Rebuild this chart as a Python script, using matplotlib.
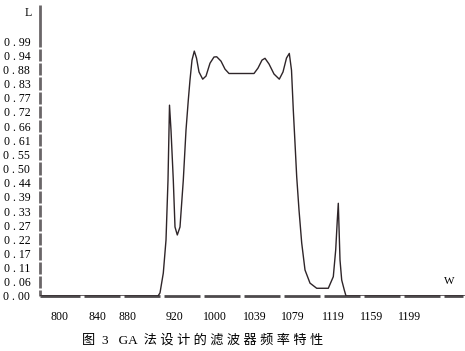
import numpy as np
import matplotlib
matplotlib.use("Agg")
import matplotlib.pyplot as plt

# frequency response (x ~ frequency, L ~ response)
freq = [824, 942, 944, 947.3, 950, 952, 953.5, 955, 957.3, 959, 961.3, 964, 967.3,
        970, 972.3, 974, 976, 978.3, 980.5, 983, 986.7, 990, 994, 998, 1000.7, 1005,
        1009, 1013, 1038, 1042, 1046, 1049, 1053, 1058, 1063.3, 1067, 1070.5, 1073.3,
        1075.5, 1077.3, 1079, 1080.7, 1083, 1085.7, 1089, 1094, 1100.7, 1112.3, 1117.3,
        1119.7, 1121.3, 1122.3, 1123, 1124, 1125.7, 1128.3, 1130, 1249]
resp = [0, 0, 0.012, 0.089, 0.217, 0.450, 0.741, 0.644, 0.450, 0.268, 0.237, 0.268, 0.450,
        0.644, 0.761, 0.839, 0.916, 0.951, 0.924, 0.870, 0.842, 0.854, 0.904, 0.928, 0.929, 0.912,
        0.881, 0.864, 0.864, 0.885, 0.916, 0.923, 0.901, 0.862, 0.842, 0.870, 0.924, 0.942,
        0.877, 0.722, 0.594, 0.463, 0.334, 0.206, 0.101, 0.050, 0.030, 0.030, 0.075,
        0.179, 0.295, 0.360, 0.269, 0.140, 0.062, 0.023, 0, 0]

y_ticks = [0.055 * k for k in range(19)]
y_labels = ["0 . 00", "0 . 06", "0 . 11", "0 . 17", "0 . 22", "0 . 27", "0 . 33", "0 . 39",
            "0 . 44", "0 . 50", "0 . 55", "0 . 61", "0 . 66", "0 . 72", "0 . 77", "0 . 83",
            "0 . 88", "0 . 94", "0 . 99"]
x_ticks = [844, 881, 912, 959, 999, 1039, 1077, 1117, 1156, 1194]
x_labels = ["800", "840", "880", "920", "1000", "1039", "1079", "1119", "1159", "1199"]

fig = plt.figure(figsize=(4.65, 3.51), dpi=100)
ax = fig.add_axes([40 / 465, 55 / 351, 425 / 465, 291 / 351])
ax.set_xlim(824, 1249)
ax.set_ylim(0, 1.13)
for s in ax.spines.values():
    s.set_visible(False)

# broken axis lines like the original
axc = "#4d4a4c"
xg = [866 + 40 * k for k in range(10)]
xs = [824] + xg
xe = xg + [1247]
for a, b in zip(xs, xe):
    ax.plot([a if a == 824 else a + 2, b - 2 if b != 1247 else b], [0, 0], color=axc, lw=2,
            clip_on=False, solid_capstyle="butt")
yg = [(k + 0.5) * 0.055 for k in range(18)]
ys = [0] + yg
ye = yg + [1.13]
for a, b in zip(ys, ye):
    ax.plot([824, 824], [a if a == 0 else a + 0.004, b - 0.004 if b != 1.13 else b],
            color="#6a6668", lw=2, clip_on=False, solid_capstyle="butt")

ax.plot(freq, resp, color="#2e2529", lw=1.0)

ax.set_yticks(y_ticks)
ax.set_yticklabels(y_labels, family="Liberation Serif", fontsize=8.5)
ax.set_xticks(x_ticks)
ax.set_xticklabels(x_labels, family="Liberation Serif", fontsize=8.5)
ax.tick_params(axis="both", length=0)
ax.tick_params(axis="y", pad=7)
ax.tick_params(axis="x", pad=11)

fig.text(28 / 465, 1 - 13 / 351, "L", family="Liberation Serif", fontsize=8.5,
         ha="center", va="center")
fig.text(449 / 465, 1 - 281 / 351, "W", family="Liberation Serif", fontsize=8,
         ha="center", va="center")
fig.text(203 / 465, 1 - 340 / 351, "图  3   GA  法 设 计 的 滤 波 器 频 率 特 性",
         family=["Liberation Serif", "Noto Sans CJK SC"], fontsize=9.5,
         ha="center", va="center")

fig.savefig("out.png", dpi=100)
